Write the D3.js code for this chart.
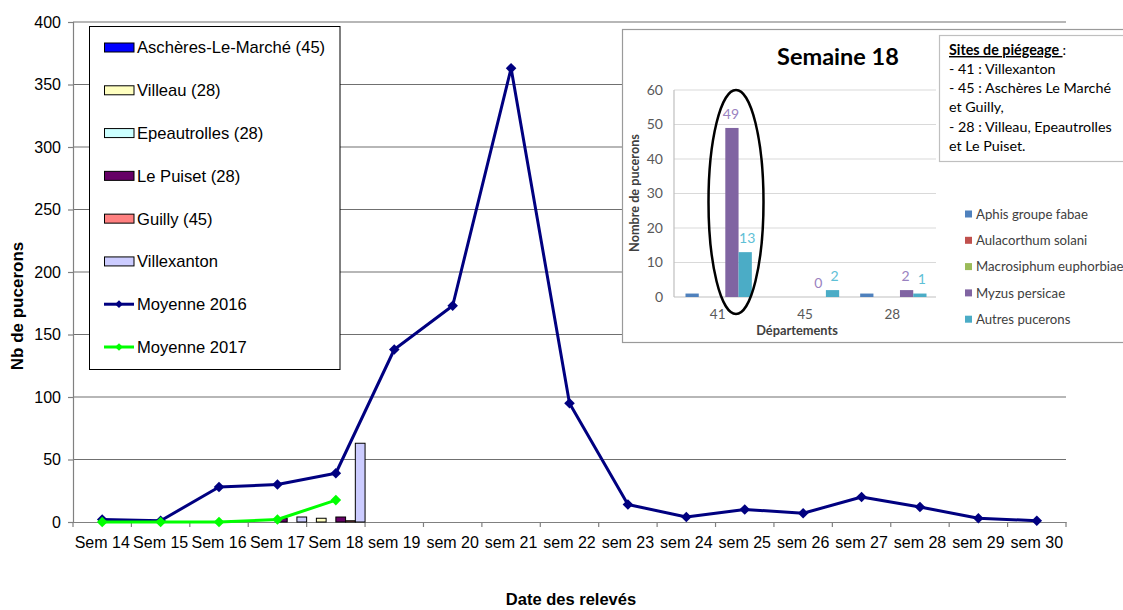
<!DOCTYPE html>
<html><head><meta charset="utf-8">
<script src="https://cdn.jsdelivr.net/npm/d3@7"></script>
<style>
html,body{margin:0;padding:0;background:#fff;}
svg{display:block;}
</style></head>
<body>
<svg id="chart" width="1123" height="610"></svg>
<script>
// ---------- DATA ----------
const weeks = ["Sem 14","Sem 15","Sem 16","Sem 17","Sem 18","sem 19","sem 20","sem 21","sem 22","sem 23","sem 24","sem 25","sem 26","sem 27","sem 28","sem 29","sem 30"];
const yTicks = [0,50,100,150,200,250,300,350,400];
const moyenne2016 = [2,1,28,30,39,138,173,363,95,14,4,10,7,20,12,3,1];
const moyenne2017 = [0,0,0,2,17.5,null,null,null,null,null,null,null,null,null,null,null,null];
const siteNames = ["Aschères-Le-Marché (45)","Villeau (28)","Epeautrolles (28)","Le Puiset (28)","Guilly (45)","Villexanton"];
const siteColors = ["#0000FF","#FFFFC0","#CCFFFF","#660066","#FF8080","#CCCCFF"];
const aschères   = [null,null,null,0,0,null,null,null,null,null,null,null,null,null,null,null,null];
const villeau    = [null,null,null,0,3,null,null,null,null,null,null,null,null,null,null,null,null];
const epeautrolles=[null,null,null,0,0,null,null,null,null,null,null,null,null,null,null,null,null];
const lePuiset   = [null,null,null,3,4,null,null,null,null,null,null,null,null,null,null,null,null];
const guilly     = [null,null,null,0,1,null,null,null,null,null,null,null,null,null,null,null,null];
const villexanton= [null,null,null,4,63,null,null,null,null,null,null,null,null,null,null,null,null];
const siteSeries = [aschères,villeau,epeautrolles,lePuiset,guilly,villexanton];
const lineNames = ["Moyenne 2016","Moyenne 2017"];
const lineColors = ["#000080","#00FF00"];

// inset data
const insetTitle = "Semaine 18";
const departements = ["41","45","28"];
const especes = ["Aphis groupe fabae","Aulacorthum solani","Macrosiphum euphorbiae","Myzus persicae","Autres pucerons"];
const especeColors = ["#4F81BD","#C0504D","#9BBB59","#8064A2","#4BACC6"];
const aphis = [1,0,1];
const aulacorthum = [0,0,0];
const macrosiphum = [0,0,0];
const myzus = [49,0,2];
const autres = [13,2,1];
const insetTicks = [0,10,20,30,40,50,60];
const sitesText = ["- 41 : Villexanton","- 45 : Aschères Le Marché","et Guilly,","- 28 : Villeau, Epeautrolles","et Le Puiset."];

// ---------- MAIN CHART ----------
const svg = d3.select("#chart");
const FONT = "'Liberation Sans', Arial, sans-serif";
const L = 73, R = 1066, T = 22, B = 522;
const x = d3.scaleBand().domain(weeks).range([L, R]).padding(0);
const y = d3.scaleLinear().domain([0,400]).range([B, T]);

// gridlines
svg.append("g").selectAll("line").data(yTicks.filter(d=>d>0)).join("line")
  .attr("x1", L).attr("x2", R).attr("y1", d=>y(d)).attr("y2", d=>y(d))
  .attr("stroke", "#707070").attr("stroke-width", 1.2);

// y axis
const yAxis = svg.append("g").attr("transform", `translate(${L},0)`)
  .call(d3.axisLeft(y).tickValues(yTicks).tickSize(5).tickPadding(7));
yAxis.select(".domain").attr("stroke", "#808080").attr("stroke-width", 1.2);
yAxis.selectAll(".tick line").attr("stroke", "#808080").attr("stroke-width", 1.2);
yAxis.selectAll(".tick text").attr("font-family", FONT).attr("font-size", 16).attr("fill", "#000");

// x axis
const xAxis = svg.append("g").attr("transform", `translate(0,${B})`)
  .call(d3.axisBottom(x).tickSize(0).tickPadding(15));
xAxis.select(".domain").attr("stroke", "#808080").attr("stroke-width", 1.2);
xAxis.selectAll(".tick text").attr("font-family", FONT).attr("font-size", 16).attr("fill", "#000");
// category boundary ticks
const bounds = weeks.map(w => x(w)).concat([x(weeks[weeks.length-1]) + x.bandwidth()]);
svg.append("g").selectAll("line").data(bounds).join("line")
  .attr("x1", d=>d).attr("x2", d=>d).attr("y1", B).attr("y2", B+5)
  .attr("stroke", "#808080").attr("stroke-width", 1.2);

// bars
const xs = d3.scaleBand().domain(d3.range(siteNames.length)).range([0, x.bandwidth()]).padding(0);
const barData = [];
siteSeries.forEach((s, si) => s.forEach((v, wi) => { if (v !== null) barData.push({si, w: weeks[wi], v}); }));
svg.append("g").selectAll("rect").data(barData).join("rect")
  .attr("x", d => x(d.w) + xs(d.si))
  .attr("width", xs.bandwidth())
  .attr("y", d => y(d.v))
  .attr("height", d => y(0) - y(d.v))
  .attr("fill", d => siteColors[d.si])
  .attr("stroke", "#000").attr("stroke-width", 1);

// lines
const diamond = d3.symbol().type(d3.symbolSquare).size(56);
[moyenne2016, moyenne2017].forEach((series, i) => {
  const pts = series.map((v, wi) => ({v, w: weeks[wi]})).filter(d => d.v !== null);
  const line = d3.line().x(d => x(d.w) + x.bandwidth()/2).y(d => y(d.v));
  svg.append("path").datum(pts).attr("d", line).attr("fill", "none")
    .attr("stroke", lineColors[i]).attr("stroke-width", 3).attr("stroke-linejoin", "round");
  svg.append("g").selectAll("path").data(pts).join("path")
    .attr("d", diamond)
    .attr("transform", d => `translate(${x(d.w) + x.bandwidth()/2},${y(d.v)}) rotate(45)`)
    .attr("fill", lineColors[i]);
});

// axis titles
svg.append("text").attr("x", 571).attr("y", 599).attr("dy", "0.35em").attr("text-anchor", "middle")
  .attr("font-family", FONT).attr("font-size", 16.5).attr("font-weight", "bold").text("Date des relevés");
svg.append("text").attr("transform", "translate(17,306) rotate(-90)").attr("dy", "0.35em").attr("text-anchor", "middle")
  .attr("font-family", FONT).attr("font-size", 17).attr("font-weight", "bold").text("Nb de pucerons");

// legend
const lg = svg.append("g");
lg.append("rect").attr("x", 89.5).attr("y", 26.5).attr("width", 250.5).attr("height", 343)
  .attr("fill", "#fff").attr("stroke", "#000").attr("stroke-width", 1);
const legendItems = siteNames.map((n, i) => ({n, type: "bar", c: siteColors[i]}))
  .concat(lineNames.map((n, i) => ({n, type: "line", c: lineColors[i]})));
const rowY = d3.scaleLinear().domain([0, 7]).range([47.5, 347]);
legendItems.forEach((it, i) => {
  const cy = rowY(i);
  if (it.type === "bar") {
    lg.append("rect").attr("x", 104.5).attr("y", cy - 4.5).attr("width", 29.5).attr("height", 9)
      .attr("fill", it.c).attr("stroke", "#000").attr("stroke-width", 1);
  } else {
    lg.append("line").attr("x1", 104).attr("x2", 134).attr("y1", cy).attr("y2", cy)
      .attr("stroke", it.c).attr("stroke-width", 3);
    lg.append("path").attr("d", d3.symbol().type(d3.symbolSquare).size(30))
      .attr("transform", `translate(119,${cy}) rotate(45)`).attr("fill", it.c);
  }
  lg.append("text").attr("x", 137).attr("y", cy).attr("dy", "0.36em")
    .attr("font-family", FONT).attr("font-size", 16.6).attr("fill", "#000").text(it.n);
});

// ---------- INSET ----------
const IF = "Lato, 'Open Sans', sans-serif";
const ins = svg.append("g");
ins.append("rect").attr("x", 622.5).attr("y", 29.5).attr("width", 520).attr("height", 313)
  .attr("fill", "#fff").attr("stroke", "#9a9a9a").attr("stroke-width", 1.2);
ins.append("text").attr("x", 838).attr("y", 57).attr("dy", "0.35em").attr("text-anchor", "middle")
  .attr("font-family", IF).attr("font-size", 23.5).attr("font-weight", "bold").attr("fill", "#000").text(insetTitle);

const iL = 674, iR = 936, iT = 90, iB = 297;
const ix = d3.scaleBand().domain(departements).range([iL, iR]).padding(0);
const iy = d3.scaleLinear().domain([0,60]).range([iB, iT]);
ins.append("g").selectAll("line").data(insetTicks).join("line")
  .attr("x1", iL).attr("x2", iR).attr("y1", d=>iy(d)).attr("y2", d=>iy(d))
  .attr("stroke", d => d === 0 ? "#bfbfbf" : "#d9d9d9").attr("stroke-width", 1.2);
ins.append("line").attr("x1", iL).attr("x2", iL).attr("y1", iT).attr("y2", iB)
  .attr("stroke", "#bfbfbf").attr("stroke-width", 1.2);
ins.append("g").selectAll("text").data(insetTicks).join("text")
  .attr("x", 663).attr("y", d=>iy(d)).attr("dy", "0.35em").attr("text-anchor", "end")
  .attr("font-family", IF).attr("font-size", 14).attr("fill", "#595959").text(d=>d);
ins.append("g").selectAll("text").data(departements).join("text")
  .attr("x", d => ix(d) + ix.bandwidth()/2).attr("y", 314).attr("dy", "0.35em").attr("text-anchor", "middle")
  .attr("font-family", IF).attr("font-size", 13.5).attr("fill", "#595959").text(d=>d);
ins.append("text").attr("x", 797).attr("y", 330.5).attr("dy", "0.35em").attr("text-anchor", "middle")
  .attr("font-family", IF).attr("font-size", 12.8).attr("font-weight", "bold").attr("fill", "#404040").text("Départements");
ins.append("text").attr("transform", "translate(635,193) rotate(-90)").attr("dy", "0.35em").attr("text-anchor", "middle")
  .attr("font-family", IF).attr("font-size", 12.7).attr("font-weight", "bold").attr("fill", "#404040").text("Nombre de pucerons");

const especeSeries = [aphis, aulacorthum, macrosiphum, myzus, autres];
const ixs = d3.scaleBand().domain(d3.range(especes.length)).range([11.5, ix.bandwidth() - 9.5]).padding(0);
const iBars = [];
especeSeries.forEach((s, si) => s.forEach((v, di) => iBars.push({si, d: departements[di], v})));
ins.append("g").selectAll("rect").data(iBars).join("rect")
  .attr("x", d => ix(d.d) + ixs(d.si)).attr("width", ixs.bandwidth())
  .attr("y", d => iy(d.v)).attr("height", d => iy(0) - iy(d.v))
  .attr("fill", d => especeColors[d.si]);
// data labels for Myzus and Autres
ins.append("g").selectAll("text").data(iBars.filter(d => d.si >= 3)).join("text")
  .attr("x", d => ix(d.d) + ixs(d.si) + ixs.bandwidth()/2 - (d.si === 3 ? 1 : -2))
  .attr("y", d => iy(d.v) - 14).attr("dy", "0.35em").attr("text-anchor", "middle")
  .attr("font-family", IF).attr("font-size", 14).attr("fill", d => d.si === 3 ? "#9a82c0" : "#5ec0d6")
  .text(d => d.v);
// ellipse
ins.append("ellipse").attr("cx", 736).attr("cy", 202).attr("rx", 27.5).attr("ry", 112)
  .attr("fill", "none").attr("stroke", "#000").attr("stroke-width", 2.5);

// inset legend
especes.forEach((e, i) => {
  const cy = 214 + i * 26.3;
  ins.append("rect").attr("x", 965).attr("y", cy - 3.5).attr("width", 7).attr("height", 7).attr("fill", especeColors[i]);
  ins.append("text").attr("x", 976).attr("y", cy).attr("dy", "0.35em")
    .attr("font-family", IF).attr("font-size", 13.2).attr("fill", "#404040").text(e);
});

// sites text box
ins.append("rect").attr("x", 939.5).attr("y", 35.5).attr("width", 200).attr("height", 126)
  .attr("fill", "#fff").attr("stroke", "#bfbfbf").attr("stroke-width", 1.2);
const st = ins.append("text").attr("x", 949).attr("y", 50).attr("dy", "0.35em")
  .attr("font-family", IF).attr("font-size", 14.3).attr("fill", "#000");
st.append("tspan").attr("font-weight", "bold").attr("text-decoration", "underline").text("Sites de piégeage ");
st.append("tspan").text(":");
sitesText.forEach((t, i) => {
  ins.append("text").attr("x", 949).attr("y", 69 + i * 19.2).attr("dy", "0.35em")
    .attr("font-family", IF).attr("font-size", 14.3).attr("fill", "#000").text(t);
});
</script>
</body></html>
